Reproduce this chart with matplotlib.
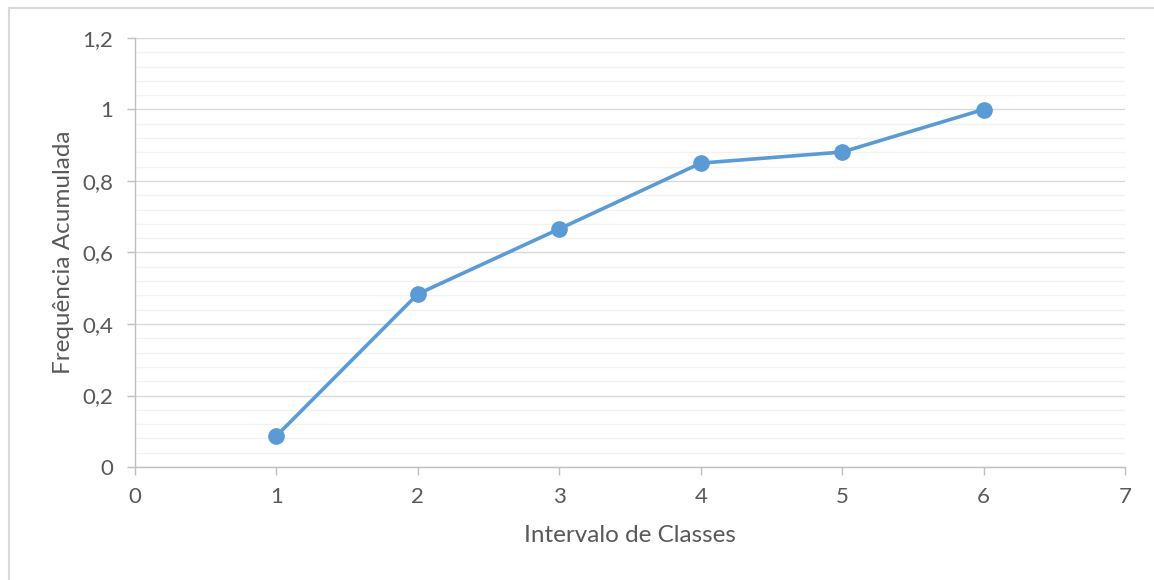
import matplotlib
matplotlib.use("Agg")
import matplotlib.pyplot as plt
from matplotlib.ticker import FuncFormatter, MultipleLocator
from matplotlib.lines import Line2D

classes = [1, 2, 3, 4, 5, 6]
freq_acum = [0.087, 0.484, 0.666, 0.850, 0.881, 1.0]

plt.rcParams['font.family'] = ['Lato', 'DejaVu Sans']
txt = '#595959'

fig = plt.figure(figsize=(11.54, 5.8), dpi=100)
ax = fig.add_axes([135 / 1154, 113 / 580, 990 / 1154, 429 / 580])

ax.plot(classes, freq_acum, color='#5B9BD5', lw=2.6, marker='o', ms=11,
        solid_capstyle='round', zorder=3)

ax.set_xlim(0, 7)
ax.set_ylim(0, 1.2)
ax.xaxis.set_major_locator(MultipleLocator(1))
ax.yaxis.set_major_locator(MultipleLocator(0.2))
ax.yaxis.set_minor_locator(MultipleLocator(0.04))

fmt = FuncFormatter(lambda v, p: ('%g' % round(v, 2)).replace('.', ','))
ax.yaxis.set_major_formatter(fmt)

ax.grid(which='major', axis='y', color='#D9D9D9', lw=1.0)
ax.grid(which='minor', axis='y', color='#F2F2F2', lw=1.0)
ax.set_axisbelow(True)

for s in ['top', 'right']:
    ax.spines[s].set_visible(False)
for s in ['left', 'bottom']:
    ax.spines[s].set_color('#BFBFBF')
    ax.spines[s].set_linewidth(1.0)

ax.tick_params(axis='both', which='major', colors='#BFBFBF', labelcolor=txt,
               labelsize=16, length=5.5, width=1)
ax.tick_params(axis='y', which='minor', length=0)
ax.tick_params(axis='x', pad=9)
ax.tick_params(axis='y', pad=10)

ax.set_xlabel('Intervalo de Classes', fontsize=17.5, color=txt, labelpad=13)
ax.set_ylabel('Frequência Acumulada', fontsize=17.5, color=txt, labelpad=6)

# chart frame (top and left edges visible in crop)
fig.add_artist(Line2D([9 / 1154, 9 / 1154], [0, 1 - 8 / 580],
                      transform=fig.transFigure, color='#D9D9D9', lw=1.5))
fig.add_artist(Line2D([9 / 1154, 1], [1 - 8 / 580, 1 - 8 / 580],
                      transform=fig.transFigure, color='#D9D9D9', lw=1.5))

fig.savefig('out.png', dpi=100)
